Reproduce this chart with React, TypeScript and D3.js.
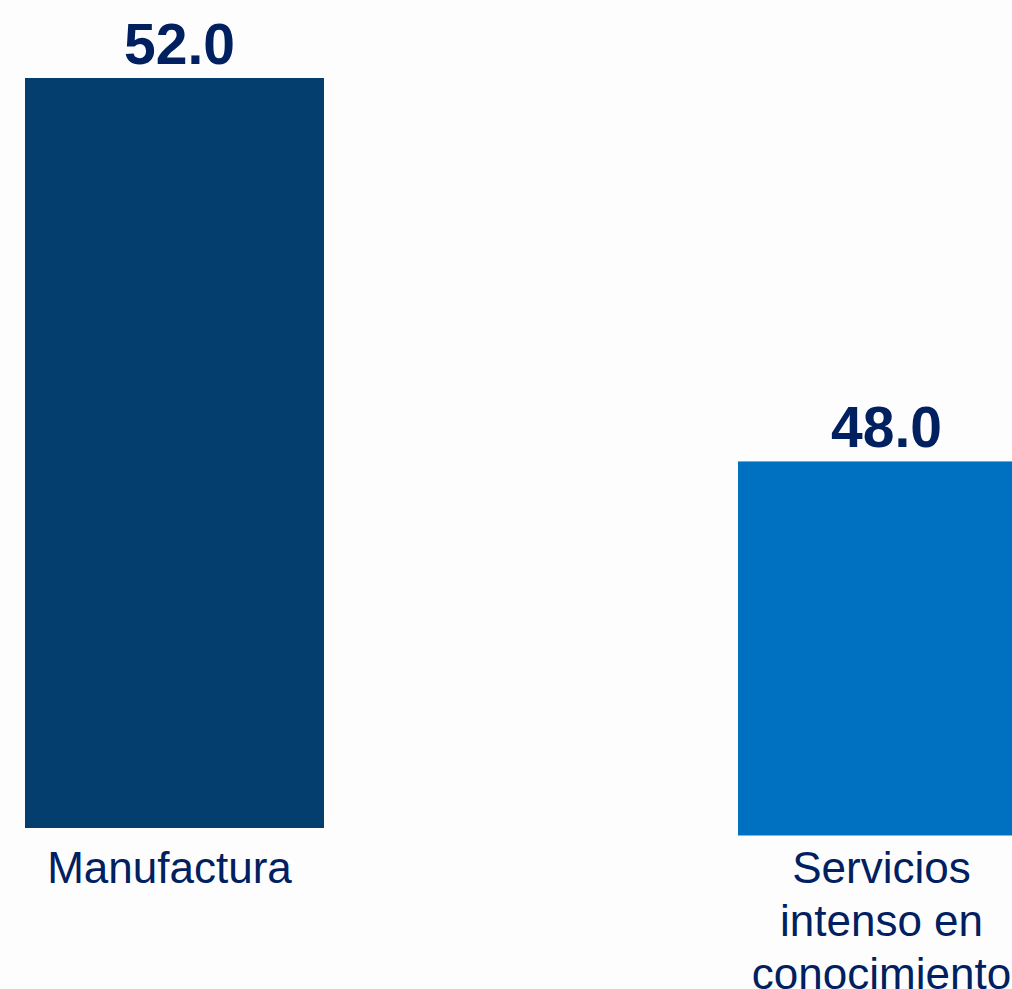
import React from "react";
import * as d3 from "d3";

const categories = ["Manufactura", "Servicios intenso en conocimiento"];
const values = [52.0, 48.0];
const labelLines = [["Manufactura"], ["Servicios", "intenso en", "conocimiento"]];
const barColors = ["#043E6F", "#0070C0"];

const W = 1012;
const H = 989;
const TEXT = "#002060";
const FONT = "'Liberation Sans', Arial, Helvetica, sans-serif";

export default function App() {
  // category centers
  const x = d3.scalePoint<string>().domain(categories).range([174.5, 887.5]);
  const barW = 299;
  // value axis does not start at zero in the original
  const h = d3.scaleLinear().domain([44.02, 52]).range([0, 750]);
  const baselines = [828, 835.5];
  const valueDx = [5, -1];
  const catDx = [-5, -6];

  return (
    <svg
      width={W}
      height={H}
      viewBox={`0 0 ${W} ${H}`}
      style={{ position: "absolute", left: 0, top: 0, display: "block", background: "#FDFDFD" }}
    >
      <rect x={0} y={0} width={W} height={H} fill="#FDFDFD" />
      {categories.map((c, i) => {
        const cx = x(c)!;
        const base = baselines[i];
        const top = base - h(values[i]);
        return (
          <g key={c}>
            <rect x={cx - barW / 2} y={top} width={barW} height={base - top} fill={barColors[i]} />
            <text
              x={cx + valueDx[i]}
              y={top - 14}
              textAnchor="middle"
              fontFamily={FONT}
              fontWeight="bold"
              fontSize={57}
              fill={TEXT}
            >
              {d3.format(".1f")(values[i])}
            </text>
            {labelLines[i].map((line, j) => (
              <text
                key={j}
                x={cx + catDx[i]}
                y={883 + j * 53}
                textAnchor="middle"
                fontFamily={FONT}
                fontSize={44}
                fill={TEXT}
              >
                {line}
              </text>
            ))}
          </g>
        );
      })}
    </svg>
  );
}
